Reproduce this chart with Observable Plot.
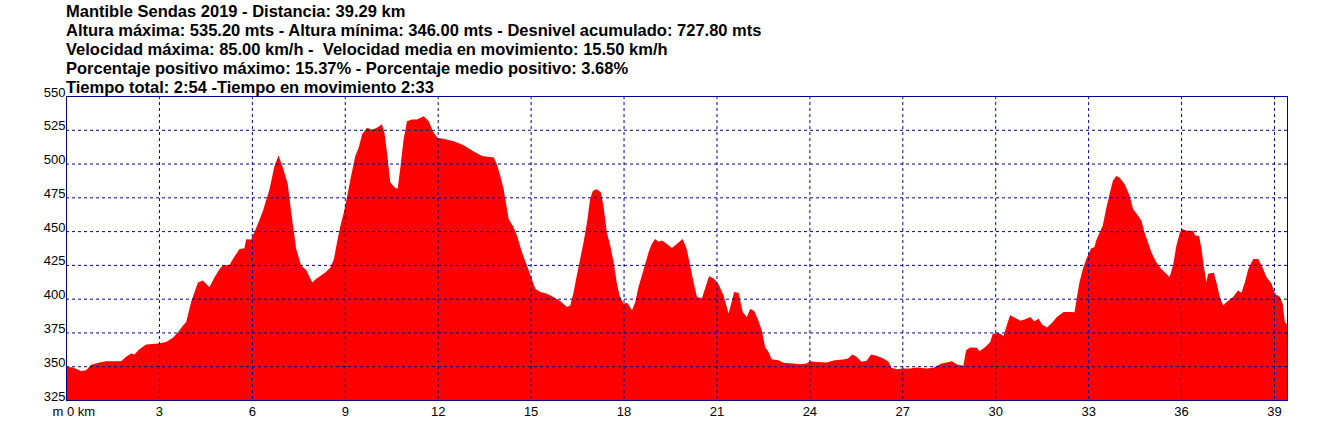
<!DOCTYPE html>
<html><head><meta charset="utf-8">
<script src="https://cdn.jsdelivr.net/npm/d3@7"></script>
<script src="https://cdn.jsdelivr.net/npm/@observablehq/plot@0.6"></script>
<style>
body{margin:0;background:#fff;}
#wrap{position:relative;width:1320px;height:421px;overflow:hidden;}
#title{position:absolute;left:66px;top:1.5px;font:bold 16.5px "Liberation Sans",Arial,sans-serif;line-height:19px;color:#000;white-space:pre;}
</style></head><body>
<div id="wrap"></div>
<script>
const titleLines = [
  "Mantible Sendas 2019 - Distancia: 39.29 km",
  "Altura máxima: 535.20 mts - Altura mínima: 346.00 mts - Desnivel acumulado: 727.80 mts",
  "Velocidad máxima: 85.00 km/h -  Velocidad media en movimiento: 15.50 km/h",
  "Porcentaje positivo máximo: 15.37% - Porcentaje medio positivo: 3.68%",
  "Tiempo total: 2:54 -Tiempo en movimiento 2:33"
];

const km = [0,0.22,0.49,0.65,0.81,1.08,1.30,1.78,1.94,2.10,2.21,2.37,2.59,2.98,3.23,3.45,3.61,3.77,3.88,4.04,4.15,4.26,4.42,4.63,4.80,4.96,5.06,5.28,5.39,5.60,5.76,5.82,5.98,6.19,6.36,6.57,6.73,6.86,7.00,7.16,7.27,7.43,7.59,7.76,7.95,8.08,
8.22,8.38,8.54,8.65,8.75,8.86,8.97,9.08,9.18,9.34,9.45,9.56,9.72,9.88,10.04,10.20,10.28,10.37,10.47,10.63,10.71,10.80,10.90,11.01,11.17,11.33,11.55,11.71,11.87,12.0,12.19,12.52,12.84,13.16,13.43,13.81,13.91,14.02,14.13,14.29,14.45,14.56,14.72,14.88,15.0,15.15,15.31,15.53,15.74,15.96,16.17,16.28,
16.39,16.49,16.60,16.71,16.82,16.92,17.01,17.14,17.27,17.35,17.46,17.57,17.68,17.78,17.87,18.0,18.11,18.18,18.27,18.38,18.48,18.59,18.70,18.81,18.91,19.02,19.13,19.24,19.40,19.56,19.72,19.91,20.04,20.15,20.26,20.37,20.53,20.63,20.76,20.90,21.06,21.23,21.39,21.49,21.57,21.71,21.85,21.98,22.09,22.22,22.35,22.46,22.57,22.68,22.78,23.0,23.16,23.48,23.70,23.91,24.02,
24.23,24.55,24.82,25.09,25.25,25.39,25.52,25.68,25.85,25.99,26.17,26.39,26.55,26.65,26.82,27.0,27.25,27.46,27.79,28.0,28.27,28.43,28.60,28.76,28.97,29.06,29.19,29.41,29.49,29.68,29.84,29.92,30.11,30.27,30.38,30.48,30.65,30.81,30.97,31.13,31.26,31.40,31.51,31.67,31.83,31.99,32.21,32.43,
32.56,32.63,32.72,32.83,32.94,33.04,33.10,33.20,33.26,33.37,33.47,33.58,33.69,33.80,33.91,34.01,34.18,34.34,34.45,34.61,34.72,34.82,34.93,35.04,35.20,35.36,35.52,35.63,35.74,35.85,35.96,36.04,36.17,36.39,36.46,36.58,36.66,36.73,36.82,36.87,37.06,37.14,37.25,37.36,37.47,37.68,37.84,37.95,38.06,38.17,38.33,38.49,38.60,38.76,38.92,39.03,39.19,39.28,39.35,39.42];

const elev = [349.6,349,346.4,347,351,352.8,353.7,353.7,357,359.4,358.7,362.6,366,366.8,368,371,375,380,382.7,397.5,405,412,413.5,408.5,416,422,424.5,425,429.4,436.8,437.3,444,443.7,455,465,481,498,506,497,484.7,464,437,424.5,421,412,414.7,
417,419.6,423,429.4,441.7,454,463.8,476,488,505.6,511.7,521.6,526.5,525,526.5,529,522.8,506.8,486,482,481.5,498,518,531.4,532.6,532.6,535.1,531.4,522.8,519,518.4,516.6,513.5,509,505.6,504.4,499.4,490.8,481,459,452.8,446.6,434.3,424.5,417,407.3,404.9,403.6,401.2,398,393.8,395,
404.9,417,429.4,441.7,456.4,473.6,479.8,481,478.6,468.7,449,439.3,427,412,402.4,396.3,397,395,391.3,397.5,408.5,417,425.7,434.3,440.5,444.2,442.2,443,440.5,437.5,440.5,444.2,436.8,424.5,412.2,401.2,400.4,407.3,416.6,415.2,411,402.4,389,397.5,404.9,404.4,390,386.4,392.6,390.6,384,376.6,364.3,360.6,355.2,354.5,352.5,352,351.5,352,353.7,
353.2,352.8,354.5,355,355.7,358.7,357,353.3,354,358.7,357.7,355.7,353.3,348.8,347.8,348.3,348.3,349,348.3,348.8,352,352.8,353.7,351.3,350.3,361.9,363.8,363.6,361,364.3,368,374.1,374.6,372.4,380.8,387.7,385.7,383.7,384.7,386.4,383.2,385.2,380.8,378.6,382,386.4,390.1,390.1,
390,400,412.2,422,429.4,434.3,437.3,438,443,449,454,466.3,477.3,487.2,490.8,489.6,484.7,476.1,466.3,461.4,457.7,449,441.7,434.3,427,422,418.4,415.9,424.5,439.3,449,451.5,450.3,450.3,446.6,446.6,436.8,424.5,412.2,418.4,419.1,412.2,401.2,395,397.5,401.2,406.1,404.4,412.2,422,429.4,429.4,424.5,415.9,411,403.6,401.2,396.3,382.7,380.8];

const xTicks = [3,6,9,12,15,18,21,24,27,30,33,36,39];
const xLabels = ["3","6","9","12","15","18","21","24","27","30","33","36","39"];
const yGrid = [350,375,400,425,450,475,500,525];
const yLabels = [325,350,375,400,425,450,475,500,525,550];
const xDomain = [0, 39.42];
const yDomain = [325, 550];

const data = km.map((k, i) => ({km: k, elev: elev[i]}));
const xl = xTicks.map((t, i) => ({t, label: xLabels[i]}));
const gridColor = "#00008f";
const font = "'Liberation Sans', Arial, sans-serif";

const chart = Plot.plot({
  width: 1320,
  height: 421,
  marginTop: 96,
  marginBottom: 21,
  marginLeft: 66,
  marginRight: 33,
  style: {fontFamily: font, fontSize: "13px", background: "#fff", color: "#000"},
  x: {domain: xDomain, axis: null},
  y: {domain: yDomain, axis: null},
  marks: [
    Plot.areaY(data, {x: "km", y1: 325, y2: "elev", fill: "#ff0000", curve: "linear"}),
    Plot.ruleX(xTicks, {x: d => d, stroke: gridColor, strokeDasharray: "3,3", strokeWidth: 1}),
    Plot.ruleY(yGrid, {y: d => d, stroke: gridColor, strokeDasharray: "3,3", strokeWidth: 1}),
    Plot.frame({stroke: gridColor, strokeWidth: 1}),
    Plot.text(yLabels, {y: d => d, text: d => String(d), frameAnchor: "left", textAnchor: "end", lineAnchor: "bottom", dx: -1, fill: "#000", fontSize: 13}),
    Plot.text(xl, {x: "t", text: "label", frameAnchor: "bottom", textAnchor: "middle", lineAnchor: "bottom", dy: 15, fill: "#000", fontSize: 13}),
    Plot.text(["m 0 km"], {x: () => 0, text: d => d, frameAnchor: "bottom", textAnchor: "start", lineAnchor: "bottom", dx: -14, dy: 15, fill: "#000", fontSize: 13})
  ]
});

const wrap = document.getElementById("wrap");
wrap.appendChild(chart);
const title = document.createElement("div");
title.id = "title";
title.textContent = titleLines.join("\n");
wrap.appendChild(title);
</script>
</body></html>
